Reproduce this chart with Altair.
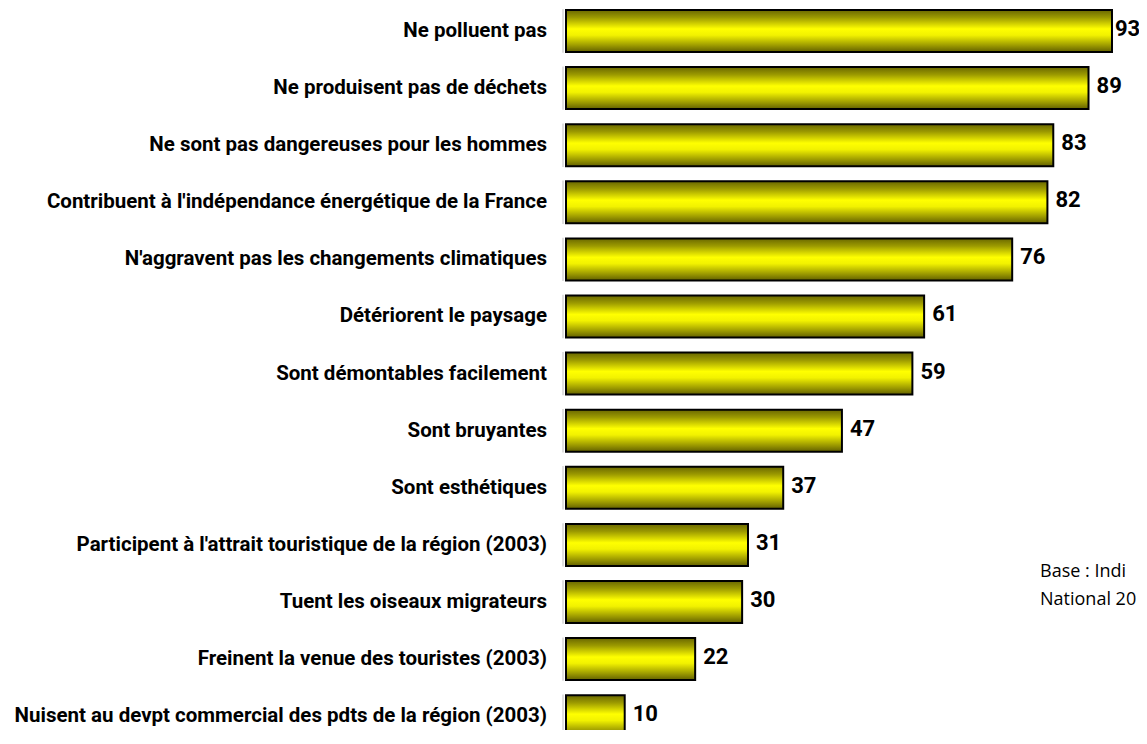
import altair as alt
import pandas as pd

categories = [
    "Ne polluent pas",
    "Ne produisent pas de déchets",
    "Ne sont pas dangereuses pour les hommes",
    "Contribuent à l'indépendance énergétique de la France",
    "N'aggravent pas les changements climatiques",
    "Détériorent le paysage",
    "Sont démontables facilement",
    "Sont bruyantes",
    "Sont esthétiques",
    "Participent à l'attrait touristique de la région (2003)",
    "Tuent les oiseaux migrateurs",
    "Freinent la venue des touristes (2003)",
    "Nuisent au devpt commercial des pdts de la région (2003)",
]
values = [93, 89, 83, 82, 76, 61, 59, 47, 37, 31, 30, 22, 10]
note_lines = ["Base : Indi", "National 20"]

df = pd.DataFrame({"idx": list(range(len(categories))), "label": categories, "value": values})
note_df = pd.DataFrame({"note": ["\n".join(note_lines)]})

FONT = "Roboto"

xs = alt.Scale(domain=[0, 97.6], nice=False, zero=True, padding=0)
ys = alt.Scale(domain=[-0.4028, 12.2417], nice=False, zero=False, reverse=True, padding=0)

grad = alt.Gradient(
    gradient="linear",
    x1=0, x2=0, y1=0, y2=1,
    stops=[
        alt.GradientStop(offset=0.0, color="#6a6800"),
        alt.GradientStop(offset=0.18, color="#9c9a00"),
        alt.GradientStop(offset=0.45, color="#ffff00"),
        alt.GradientStop(offset=0.6, color="#f2f200"),
        alt.GradientStop(offset=0.85, color="#9a9800"),
        alt.GradientStop(offset=1.0, color="#626000"),
    ],
)

base = alt.Chart(df)

edge = base.mark_rule(color="#d4d4d4", strokeWidth=1.5).encode(
    x=alt.value(-3),
    y=alt.Y("y0:Q", scale=ys, axis=None),
    y2="y1:Q",
).transform_calculate(y0="datum.idx - 0.38", y1="datum.idx + 0.38")

bars = base.mark_bar(orient="horizontal", height=42, color=grad, stroke="black", strokeWidth=2).encode(
    x=alt.X("value:Q", scale=xs, axis=None),
    y=alt.Y("idx:Q", scale=ys, axis=None),
)

cat_labels = base.mark_text(
    align="right", baseline="middle", font=FONT, fontWeight="bold", fontSize=20.5, color="black"
).encode(
    x=alt.value(-19),
    y=alt.Y("idx:Q", scale=ys),
    text="label:N",
)

val_style = dict(align="left", baseline="middle", dy=-2, font=FONT, fontWeight="bold", fontSize=22, color="black")

val_labels = base.mark_text(dx=8, **val_style).encode(
    x=alt.X("value:Q", scale=xs),
    y=alt.Y("idx:Q", scale=ys),
    text="value:Q",
).transform_filter("datum.value < 90")

val_labels_top = base.mark_text(dx=3, **val_style).encode(
    x=alt.X("value:Q", scale=xs),
    y=alt.Y("idx:Q", scale=ys),
    text="value:Q",
).transform_filter("datum.value >= 90")

note = alt.Chart(note_df).mark_text(
    align="left", baseline="alphabetic", font="Open Sans", fontSize=18, lineBreak="\n", lineHeight=28, color="black"
).encode(
    x=alt.value(474),
    y=alt.value(569),
    text="note:N",
)

chart = (
    alt.layer(edge, bars, cat_labels, val_labels, val_labels_top, note)
    .properties(
        width=573,
        height=722,
        autosize=alt.AutoSizeParams(type="none"),
        padding={"left": 558, "top": 0, "right": 0, "bottom": 0},
        background="white",
    )
    .configure_view(stroke=None)
)

chart.save("out.html", embed_options={"renderer": "svg", "actions": False})
